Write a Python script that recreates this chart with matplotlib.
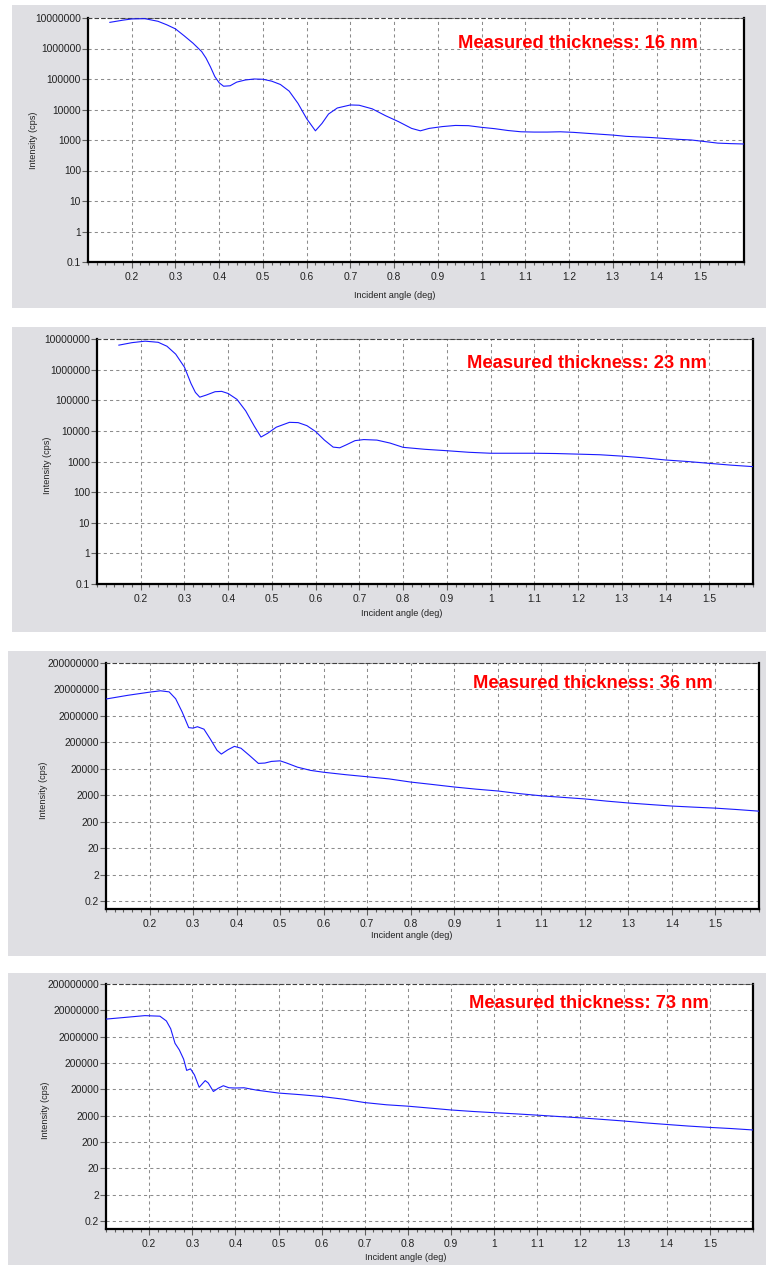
import matplotlib
matplotlib.use("Agg")
import matplotlib.pyplot as plt
from matplotlib.patches import Rectangle
from matplotlib.ticker import FixedLocator, MultipleLocator, NullLocator

# ---------------------------------------------------------------------------
# Reflectivity scans (incident angle in deg, intensity in cps)
# ---------------------------------------------------------------------------
angle_16nm = [0.15, 0.18, 0.20, 0.23, 0.26, 0.28, 0.30, 0.32, 0.34, 0.36, 0.37,
              0.38, 0.39, 0.40, 0.41, 0.425, 0.44, 0.46, 0.48, 0.50, 0.52, 0.54,
              0.56, 0.58, 0.60, 0.62, 0.635, 0.65, 0.67, 0.70, 0.72, 0.75, 0.78,
              0.81, 0.84, 0.86, 0.88, 0.91, 0.94, 0.97, 1.00, 1.03, 1.06, 1.09,
              1.12, 1.15, 1.18, 1.21, 1.24, 1.27, 1.30, 1.33, 1.36, 1.39, 1.42,
              1.45, 1.48, 1.51, 1.54, 1.57, 1.60]
counts_16nm = [7.2e6, 8.5e6, 9.3e6, 9.5e6, 7.8e6, 6.0e6, 4.4e6, 2.6e6, 1.5e6, 7.9e5,
               4.8e5, 2.5e5, 1.2e5, 7.5e4, 5.8e4, 6.0e4, 7.9e4, 9.3e4, 1.0e5, 9.8e4,
               8.5e4, 6.6e4, 4.0e4, 1.6e4, 5.0e3, 2.0e3, 3.5e3, 7.1e3, 1.12e4,
               1.41e4, 1.38e4, 1.05e4, 6.3e3, 4.0e3, 2.4e3, 2.0e3, 2.4e3, 2.75e3,
               3.0e3, 2.95e3, 2.6e3, 2.35e3, 2.05e3, 1.86e3, 1.82e3, 1.82e3, 1.86e3,
               1.78e3, 1.66e3, 1.55e3, 1.45e3, 1.32e3, 1.26e3, 1.2e3, 1.12e3, 1.05e3,
               1.0e3, 890, 790, 760, 740]

angle_23nm = [0.15, 0.18, 0.21, 0.24, 0.26, 0.28, 0.30, 0.315, 0.325, 0.335, 0.35,
              0.37, 0.385, 0.40, 0.42, 0.44, 0.46, 0.475, 0.49, 0.51, 0.54, 0.56,
              0.58, 0.60, 0.62, 0.64, 0.655, 0.67, 0.69, 0.71, 0.74, 0.77, 0.80,
              0.85, 0.90, 0.95, 1.00, 1.05, 1.10, 1.15, 1.20, 1.25, 1.30, 1.35,
              1.40, 1.45, 1.50, 1.55, 1.60]
counts_23nm = [6.3e6, 7.6e6, 8.5e6, 7.8e6, 5.8e6, 3.2e6, 1.2e6, 3.5e5, 1.8e5, 1.26e5,
               1.48e5, 1.9e5, 1.95e5, 1.66e5, 1.07e5, 4.5e4, 1.4e4, 6.3e3, 8.3e3,
               1.32e4, 1.9e4, 1.86e4, 1.48e4, 9.5e3, 5.0e3, 2.95e3, 2.8e3, 3.5e3,
               4.8e3, 5.2e3, 5.0e3, 4.0e3, 2.9e3, 2.5e3, 2.25e3, 2.0e3, 1.86e3,
               1.86e3, 1.86e3, 1.82e3, 1.74e3, 1.66e3, 1.5e3, 1.32e3, 1.12e3, 1.0e3,
               870, 760, 680]

angle_36nm = [0.10, 0.15, 0.20, 0.225, 0.245, 0.26, 0.275, 0.29, 0.30, 0.31, 0.325,
              0.34, 0.355, 0.365, 0.38, 0.395, 0.41, 0.43, 0.45, 0.465, 0.48, 0.50,
              0.515, 0.54, 0.57, 0.60, 0.65, 0.70, 0.75, 0.80, 0.85, 0.90, 0.95,
              1.00, 1.05, 1.10, 1.15, 1.20, 1.25, 1.30, 1.35, 1.40, 1.45, 1.50,
              1.55, 1.60]
counts_36nm = [8.7e6, 1.2e7, 1.58e7, 1.78e7, 1.62e7, 8.9e6, 2.8e6, 7.2e5, 6.9e5,
               7.8e5, 6.3e5, 2.6e5, 1.0e5, 7.2e4, 1.05e5, 1.41e5, 1.2e5, 6.3e4,
               3.2e4, 3.3e4, 3.8e4, 4.0e4, 3.3e4, 2.3e4, 1.74e4, 1.48e4, 1.2e4,
               1.0e4, 8.3e3, 6.3e3, 5.1e3, 4.1e3, 3.4e3, 2.9e3, 2.3e3, 1.9e3,
               1.66e3, 1.45e3, 1.2e3, 1.02e3, 890, 780, 710, 650, 575, 500]

angle_73nm = [0.10, 0.15, 0.19, 0.225, 0.24, 0.25, 0.26, 0.27, 0.28, 0.287, 0.296,
              0.305, 0.316, 0.33, 0.337, 0.349, 0.36, 0.372, 0.385, 0.40, 0.42,
              0.45, 0.50, 0.55, 0.60, 0.65, 0.70, 0.75, 0.80, 0.85, 0.90, 0.95,
              1.00, 1.05, 1.10, 1.15, 1.20, 1.25, 1.30, 1.35, 1.40, 1.45, 1.50,
              1.55, 1.60]
counts_73nm = [9.3e6, 1.1e7, 1.26e7, 1.2e7, 7.9e6, 4.0e6, 1.12e6, 6.3e5, 2.8e5,
               1.05e5, 1.2e5, 7.1e4, 2.4e4, 4.3e4, 3.5e4, 1.66e4, 2.2e4, 2.75e4,
               2.3e4, 2.25e4, 2.3e4, 1.86e4, 1.45e4, 1.26e4, 1.07e4, 8.5e3, 6.3e3,
               5.2e3, 4.6e3, 3.9e3, 3.3e3, 2.9e3, 2.6e3, 2.35e3, 2.1e3, 1.86e3,
               1.66e3, 1.45e3, 1.26e3, 1.07e3, 930, 810, 720, 650, 575]

thickness_labels = ["Measured thickness: 16 nm", "Measured thickness: 23 nm",
                    "Measured thickness: 36 nm", "Measured thickness: 73 nm"]

x_ticks = [0.2, 0.3, 0.4, 0.5, 0.6, 0.7, 0.8, 0.9, 1.0, 1.1, 1.2, 1.3, 1.4, 1.5]
x_tick_labels = ["0.2", "0.3", "0.4", "0.5", "0.6", "0.7", "0.8", "0.9", "1",
                 "1.1", "1.2", "1.3", "1.4", "1.5"]

y_ticks_decade = [0.1, 1, 10, 100, 1000, 10000, 100000, 1000000, 10000000]
y_labels_decade = ["0.1", "1", "10", "100", "1000", "10000", "100000", "1000000",
                   "10000000"]
y_ticks_two = [0.2, 2, 20, 200, 2000, 20000, 200000, 2000000, 20000000, 200000000]
y_labels_two = ["0.2", "2", "20", "200", "2000", "20000", "200000", "2000000",
                "20000000", "200000000"]

# ---------------------------------------------------------------------------
# Figure layout (pixel geometry of each instrument window)
# ---------------------------------------------------------------------------
W, H = 766, 1265
fig = plt.figure(figsize=(W / 100, H / 100), dpi=100)
fig.patch.set_facecolor("white")

FONT = "Liberation Sans"
PANEL_BG = "#dfdfe3"
GRID = "#8c8c8c"

panels = [
    dict(bg=(12, 5, 766, 308), ax=(88, 18, 744, 262),
         x=angle_16nm, y=counts_16nm, ylim=(0.1, 1e7),
         yt=y_ticks_decade, yl=y_labels_decade,
         note=thickness_labels[0], note_xy=(458, 43),
         xlab_xy=(395, 295), ylab_xy=(33, 140)),
    dict(bg=(12, 327, 766, 632), ax=(97, 339, 753, 584),
         x=angle_23nm, y=counts_23nm, ylim=(0.1, 1e7),
         yt=y_ticks_decade, yl=y_labels_decade,
         note=thickness_labels[1], note_xy=(467, 363),
         xlab_xy=(402, 613), ylab_xy=(47, 465)),
    dict(bg=(8, 651, 766, 956), ax=(106, 663, 759, 909),
         x=angle_36nm, y=counts_36nm, ylim=(0.1, 2e8),
         yt=y_ticks_two, yl=y_labels_two,
         note=thickness_labels[2], note_xy=(473, 683),
         xlab_xy=(412, 935), ylab_xy=(43, 790)),
    dict(bg=(8, 973, 766, 1265), ax=(106, 984, 753, 1229),
         x=angle_73nm, y=counts_73nm, ylim=(0.1, 2e8),
         yt=y_ticks_two, yl=y_labels_two,
         note=thickness_labels[3], note_xy=(469, 1004),
         xlab_xy=(406, 1257), ylab_xy=(45, 1110)),
]


def fig_rect(x0, y0, x1, y1):
    """Convert a pixel box (top-left origin) to figure fraction [l, b, w, h]."""
    return [x0 / W, 1 - y1 / H, (x1 - x0) / W, (y1 - y0) / H]


for p in panels:
    l, b, w, h = fig_rect(*p["bg"])
    fig.patches.append(Rectangle((l, b), w, h, transform=fig.transFigure,
                                 facecolor=PANEL_BG, edgecolor="none",
                                 zorder=-10))

    ax = fig.add_axes(fig_rect(*p["ax"]))
    ax.set_zorder(1)
    ax.set_facecolor("white")
    ax.plot(p["x"], p["y"], color="#1a1aff", lw=0.8, solid_joinstyle="round",
            zorder=3)
    ax.set_yscale("log")
    ax.set_xlim(0.1, 1.6)
    ax.set_ylim(*p["ylim"])

    ax.xaxis.set_major_locator(FixedLocator(x_ticks))
    ax.set_xticklabels(x_tick_labels)
    ax.xaxis.set_minor_locator(MultipleLocator(0.02))
    ax.yaxis.set_major_locator(FixedLocator(p["yt"]))
    ax.set_yticklabels(p["yl"])
    ax.yaxis.set_minor_locator(NullLocator())

    ax.tick_params(axis="x", which="major", direction="out", length=4,
                   width=0.8, color="#606060", pad=3, labelsize=7.4,
                   labelcolor="#222222")
    ax.tick_params(axis="x", which="minor", direction="out", length=2,
                   width=0.8, color="#606060")
    ax.tick_params(axis="y", which="major", direction="out", length=4,
                   width=0.8, color="#606060", pad=1, labelsize=7.4,
                   labelcolor="#222222")
    for lab in ax.get_xticklabels() + ax.get_yticklabels():
        lab.set_fontfamily(FONT)

    ax.grid(True, which="major", color=GRID, lw=0.75, linestyle=(0, (3, 3)))

    for side in ("left", "bottom", "right"):
        ax.spines[side].set_color("black")
        ax.spines[side].set_linewidth(1.6)
    ax.spines["top"].set_color("#404040")
    ax.spines["top"].set_linewidth(0.8)
    ax.spines["top"].set_linestyle((0, (3, 3)))

    nx, ny = p["note_xy"]
    fig.text(nx / W, 1 - ny / H, p["note"], color="#ff0000", fontsize=13.2,
             fontweight="bold", family=FONT, ha="left", va="center", zorder=5)

    lx, ly = p["xlab_xy"]
    fig.text(lx / W, 1 - ly / H, "Incident angle (deg)", fontsize=6.6,
             family=FONT, ha="center", va="center", color="#222222")
    vx, vy = p["ylab_xy"]
    fig.text(vx / W, 1 - vy / H, "Intensity (cps)", fontsize=6.6,
             family=FONT, ha="center", va="center", rotation=90,
             color="#222222")

fig.savefig("out.png", dpi=100, facecolor="white")
